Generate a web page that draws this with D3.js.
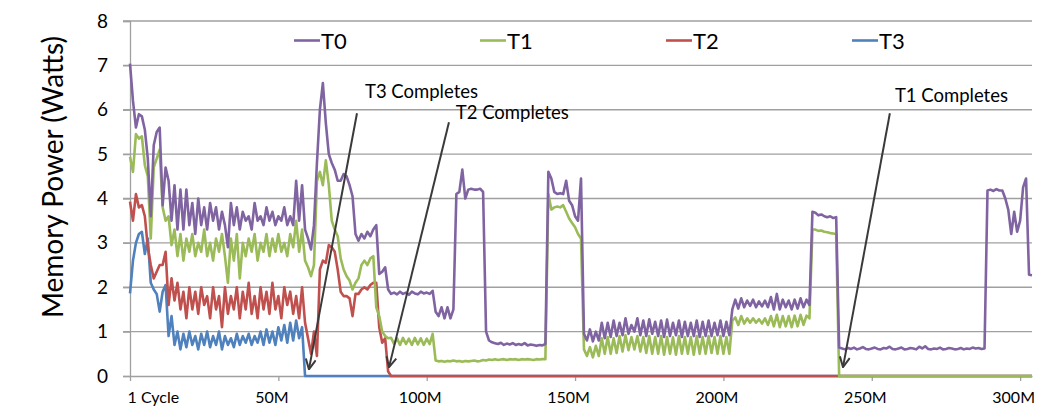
<!DOCTYPE html>
<html>
<head>
<meta charset="utf-8">
<script src="https://cdn.jsdelivr.net/npm/d3@7"></script>
<style>
  body { margin: 0; background: #fff; }
  svg { display: block; }
  text { font-family: Lato, "Liberation Sans", sans-serif; fill: #000; }
</style>
</head>
<body>
<svg id="chart" width="1044" height="415"></svg>
<script>
// Memory power per thread, sampled every 1M cycles (index = millions of cycles)
const sampleStepM = 1;

const seriesNames = ["T0", "T1", "T2", "T3"];

const t0Watts = [
  7.04, 6.2, 5.6, 5.9, 5.85, 5.55, 4.9, 3.6, 5.2, 5.5,
  5.6, 3.85, 4.7, 4.4, 3.5, 4.3, 3.3, 4.2, 3.3, 4.2,
  3.4, 3.9, 3.2, 4.0, 3.4, 3.8, 3.3, 3.9, 3.5, 3.8,
  3.3, 3.7, 3.4, 2.9, 3.9, 3.4, 3.8, 3.3, 3.7, 3.5,
  3.6, 3.3, 3.9, 3.5, 3.6, 3.4, 3.8, 3.5, 3.7, 3.4,
  3.6, 3.5, 3.8, 3.4, 3.6, 3.4, 4.4, 3.5, 4.3, 3.3,
  3.1, 2.85, 3.4, 4.8, 6.0, 6.6, 5.7, 5.0, 4.8, 4.65,
  4.4, 4.4, 4.55, 4.5, 4.3, 4.05, 3.2, 3.05, 3.2, 3.1,
  3.25, 3.15, 3.3, 3.4, 2.3, 2.35, 2.45, 1.95, 1.85, 1.88,
  1.84, 1.9, 1.85, 1.88, 1.83, 1.9, 1.86, 1.84, 1.9, 1.86,
  1.88, 1.85, 1.92, 1.45, 1.35, 1.55, 1.3, 1.55, 1.3, 1.5,
  4.1, 4.15, 4.65, 4.0, 4.2, 4.22, 4.2, 4.2, 4.22, 4.15,
  1.0, 0.8, 0.76, 0.74, 0.72, 0.75, 0.7, 0.73, 0.71, 0.74,
  0.7, 0.72, 0.7, 0.74, 0.69, 0.71, 0.7, 0.68, 0.7, 0.69,
  0.72, 4.6, 4.45, 4.15, 4.1, 4.12, 4.1, 4.4, 3.95, 3.85,
  3.6, 3.5, 4.45, 0.95, 0.8, 1.05, 0.78, 1.0, 0.8, 1.2,
  0.85, 1.2, 0.88, 1.25, 0.9, 1.2, 0.92, 1.3, 0.95, 1.15,
  1.0, 1.3, 0.92, 1.25, 0.9, 1.28, 0.95, 1.22, 0.9, 1.25,
  0.88, 1.27, 0.9, 1.2, 0.92, 1.25, 0.88, 1.22, 0.9, 1.2,
  0.9, 1.25, 0.88, 1.22, 0.9, 1.25, 0.9, 1.2, 0.92, 1.25,
  0.9, 1.22, 0.92, 1.5, 1.72, 1.52, 1.75, 1.55, 1.7, 1.58,
  1.72, 1.55, 1.68, 1.57, 1.7, 1.55, 1.78, 1.5, 1.85, 1.5,
  1.72, 1.55, 1.7, 1.5, 1.72, 1.52, 1.75, 1.55, 1.72, 1.6,
  3.7, 3.68, 3.62, 3.64, 3.6, 3.58, 3.6, 3.56, 3.58, 0.64,
  0.62, 0.6, 0.63, 0.61, 0.64, 0.6, 0.62, 0.65, 0.61, 0.6,
  0.62, 0.64, 0.61, 0.6, 0.63, 0.62, 0.66, 0.61, 0.6, 0.62,
  0.64, 0.6, 0.61, 0.63, 0.62, 0.6, 0.66, 0.62, 0.67, 0.61,
  0.6, 0.62, 0.61, 0.64, 0.6, 0.61, 0.63, 0.62, 0.6, 0.61,
  0.63, 0.6, 0.62, 0.61, 0.64, 0.62, 0.63, 0.61, 0.62, 4.18,
  4.2, 4.17, 4.21, 4.18, 4.18, 4.0, 3.75, 3.2, 3.7, 3.25,
  3.5, 4.25, 4.45, 2.28, 2.27
];

const t1Watts = [
  4.94, 4.6, 5.45, 5.35, 5.4, 4.75, 4.5, 3.1, 4.7, 4.9,
  5.1, 3.8, 3.5, 3.6, 2.95, 3.3, 2.7, 3.2, 2.6, 3.1,
  2.8, 3.2, 2.7, 3.0, 2.8, 3.3, 2.7, 3.0, 2.6, 3.1,
  2.8, 3.2, 2.7, 2.1, 3.1, 2.6, 3.2, 2.2, 3.0, 2.7,
  3.1, 2.8, 3.2, 2.6, 3.0, 2.8, 3.2, 2.7, 3.1, 2.8,
  3.2, 2.8, 3.0, 2.7, 3.2, 2.9, 3.5, 2.8, 3.3, 2.6,
  2.45, 2.25, 2.5, 4.4, 4.6, 4.3, 4.86, 4.3, 3.5, 3.3,
  3.15, 2.65, 2.4, 2.25, 2.15, 1.95, 2.1, 2.2, 2.5, 2.6,
  2.5, 2.65, 2.7, 1.55, 1.35, 1.0, 0.9, 0.85, 0.86, 0.72,
  0.85, 0.7, 0.86, 0.72, 0.84, 0.7, 0.86, 0.71, 0.85, 0.7,
  0.84, 0.72, 0.95, 0.35, 0.33, 0.34, 0.32, 0.34, 0.33, 0.35,
  0.33, 0.34, 0.32, 0.34, 0.33, 0.34, 0.35, 0.33, 0.34, 0.36,
  0.35, 0.37, 0.36, 0.38, 0.36, 0.37, 0.38, 0.36, 0.38, 0.37,
  0.38, 0.36, 0.38, 0.37, 0.38, 0.37, 0.36, 0.38, 0.37, 0.38,
  0.38, 4.1, 3.75, 3.8, 3.82, 3.8, 3.85, 3.7, 3.55, 3.45,
  3.35, 3.2, 3.1, 0.6, 0.45, 0.65, 0.42, 0.68, 0.45, 0.85,
  0.5, 0.88, 0.5, 0.85, 0.52, 0.9, 0.55, 0.92, 0.58, 0.88,
  0.6, 0.9, 0.55, 0.88, 0.52, 0.9, 0.5, 0.88, 0.5, 0.9,
  0.48, 0.88, 0.5, 0.87, 0.48, 0.9, 0.5, 0.88, 0.5, 0.88,
  0.48, 0.9, 0.5, 0.88, 0.5, 0.9, 0.52, 0.88, 0.5, 0.9,
  0.5, 0.88, 0.5, 1.25, 1.32, 1.15, 1.35, 1.18, 1.3, 1.2,
  1.3, 1.2, 1.28, 1.18, 1.3, 1.15, 1.35, 1.12, 1.38, 1.1,
  1.35, 1.12, 1.35, 1.1, 1.36, 1.12, 1.38, 1.15, 1.36, 1.3,
  3.3, 3.3, 3.27, 3.28, 3.25, 3.24, 3.22, 3.21, 3.2, 0,
  0, 0, 0, 0, 0, 0, 0, 0, 0, 0,
  0, 0, 0, 0, 0, 0, 0, 0, 0, 0,
  0, 0, 0, 0, 0, 0, 0, 0, 0, 0,
  0, 0, 0, 0, 0, 0, 0, 0, 0, 0,
  0, 0, 0, 0, 0, 0, 0, 0, 0, 0,
  0, 0, 0, 0, 0, 0, 0, 0, 0, 0,
  0, 0, 0, 0, 0
];

const t2Watts = [
  3.93, 3.5, 4.1, 3.8, 3.85, 3.6, 2.9, 2.5, 2.2, 2.35,
  2.5, 2.5, 2.8, 1.6, 2.2, 1.7, 2.1, 1.5, 1.9, 1.3,
  2.0, 1.5, 1.9, 1.4, 2.0, 1.6, 1.8, 1.3, 2.0, 1.5,
  1.8, 1.1, 2.0, 1.4, 1.8, 1.5, 2.0, 1.3, 1.9, 1.5,
  2.1, 1.4, 1.8, 1.3, 2.0, 1.5, 1.9, 1.4, 2.1, 1.5,
  1.8, 1.3, 2.0, 1.6, 1.9, 1.4, 1.8, 1.3, 2.0, 1.2,
  0.85, 0.5, 1.0, 0.45, 2.4, 2.6, 2.55, 2.95, 2.9, 2.8,
  2.4, 1.9, 1.8, 1.8, 1.75, 1.35, 1.85, 1.85, 1.95, 2.0,
  1.95, 2.05, 2.1, 2.1, 1.1, 0.75, 0.85, 0.1, 0, 0,
  0, 0, 0, 0, 0, 0, 0, 0, 0, 0,
  0, 0, 0, 0, 0, 0, 0, 0, 0, 0,
  0, 0, 0, 0, 0, 0, 0, 0, 0, 0,
  0, 0, 0, 0, 0, 0, 0, 0, 0, 0,
  0, 0, 0, 0, 0, 0, 0, 0, 0, 0,
  0, 0, 0, 0, 0, 0, 0, 0, 0, 0,
  0, 0, 0, 0, 0, 0, 0, 0, 0, 0,
  0, 0, 0, 0, 0, 0, 0, 0, 0, 0,
  0, 0, 0, 0, 0, 0, 0, 0, 0, 0,
  0, 0, 0, 0, 0, 0, 0, 0, 0, 0,
  0, 0, 0, 0, 0, 0, 0, 0, 0, 0,
  0, 0, 0, 0, 0, 0, 0, 0, 0, 0,
  0, 0, 0, 0, 0, 0, 0, 0, 0, 0,
  0, 0, 0, 0, 0, 0, 0, 0, 0, 0,
  0, 0, 0, 0, 0, 0, 0, 0, 0, 0,
  0, 0, 0, 0, 0, 0, 0, 0, 0, 0,
  0, 0, 0, 0, 0, 0, 0, 0, 0, 0,
  0, 0, 0, 0, 0, 0, 0, 0, 0, 0,
  0, 0, 0, 0, 0, 0, 0, 0, 0, 0,
  0, 0, 0, 0, 0, 0, 0, 0, 0, 0,
  0, 0, 0, 0, 0, 0, 0, 0, 0, 0,
  0, 0, 0, 0, 0
];

const t3Watts = [
  1.86, 2.6, 3.0, 3.2, 3.25, 2.75, 3.1, 2.1, 1.95, 1.85,
  1.45, 1.9, 2.05, 0.9, 1.35, 0.7, 1.0, 0.6, 0.95, 0.65,
  1.0, 0.7, 0.9, 0.6, 0.95, 0.7, 1.0, 0.65, 0.9, 0.7,
  1.0, 0.6, 0.9, 0.7, 0.85, 0.65, 0.95, 0.7, 0.9, 0.75,
  0.95, 0.7, 0.9, 0.75, 1.0, 0.7, 1.05, 0.75, 1.0, 0.7,
  1.1, 0.8, 1.15, 0.75, 1.2, 0.8, 1.25, 0.85, 1.1, 0,
  0, 0, 0, 0, 0, 0, 0, 0, 0, 0,
  0, 0, 0, 0, 0, 0, 0, 0, 0, 0,
  0, 0, 0, 0, 0, 0, 0, 0, 0, 0,
  0, 0, 0, 0, 0, 0, 0, 0, 0, 0,
  0, 0, 0, 0, 0, 0, 0, 0, 0, 0,
  0, 0, 0, 0, 0, 0, 0, 0, 0, 0,
  0, 0, 0, 0, 0, 0, 0, 0, 0, 0,
  0, 0, 0, 0, 0, 0, 0, 0, 0, 0,
  0, 0, 0, 0, 0, 0, 0, 0, 0, 0,
  0, 0, 0, 0, 0, 0, 0, 0, 0, 0,
  0, 0, 0, 0, 0, 0, 0, 0, 0, 0,
  0, 0, 0, 0, 0, 0, 0, 0, 0, 0,
  0, 0, 0, 0, 0, 0, 0, 0, 0, 0,
  0, 0, 0, 0, 0, 0, 0, 0, 0, 0,
  0, 0, 0, 0, 0, 0, 0, 0, 0, 0,
  0, 0, 0, 0, 0, 0, 0, 0, 0, 0,
  0, 0, 0, 0, 0, 0, 0, 0, 0, 0,
  0, 0, 0, 0, 0, 0, 0, 0, 0, 0,
  0, 0, 0, 0, 0, 0, 0, 0, 0, 0,
  0, 0, 0, 0, 0, 0, 0, 0, 0, 0,
  0, 0, 0, 0, 0, 0, 0, 0, 0, 0,
  0, 0, 0, 0, 0, 0, 0, 0, 0, 0,
  0, 0, 0, 0, 0, 0, 0, 0, 0, 0,
  0, 0, 0, 0, 0, 0, 0, 0, 0, 0,
  0, 0, 0, 0, 0
];

const yTickValues = [0, 1, 2, 3, 4, 5, 6, 7, 8];
const xTickValues = [0, 50, 100, 150, 200, 250, 300];
const xTickLabels = ["1 Cycle", "50M", "100M", "150M", "200M", "250M", "300M"];

// Thread-completion callouts: cycle (M) the arrow points at
const completionLabels = ["T3 Completes", "T2 Completes", "T1 Completes"];
const completionAtM = [60.3, 87.3, 240.3];

// ---- layout / styling ----
const colors = { T0: "#8064A2", T1: "#9BBB59", T2: "#C0504D", T3: "#4F81BD" };
const plot = { left: 130, right: 1032, top: 21, bottom: 376 };
const gridColor = "#a0a0a0";
const calloutLayout = [
  { textM: 79.2, textV: 6.26, tailM: 76.5, tailV: 5.92, tipV: 0.15 },
  { textM: 109.8, textV: 5.80, tailM: 107.5, tailV: 5.72, tipV: 0.2 },
  { textM: 257.8, textV: 6.18, tailM: 256.1, tailV: 5.92, tipV: 0.2 }
];

const svg = d3.select("#chart");

const x = d3.scaleLinear().domain([0, 304]).range([plot.left, plot.right]);
const y = d3.scaleLinear().domain([0, 8]).range([plot.bottom, plot.top]);

// horizontal gridlines (with short outside tick stubs)
svg.append("g")
  .selectAll("line")
  .data(yTickValues.filter(v => v > 0))
  .join("line")
  .attr("x1", plot.left - 7).attr("x2", plot.right)
  .attr("y1", d => y(d)).attr("y2", d => y(d))
  .attr("stroke", gridColor).attr("stroke-width", 1.3);

// y axis
const yAxis = svg.append("g")
  .attr("transform", `translate(${plot.left},0)`)
  .call(d3.axisLeft(y).tickValues(yTickValues).tickSize(7).tickPadding(15).tickFormat(d3.format("d")));
yAxis.select(".domain").attr("stroke", gridColor).attr("stroke-width", 1.3);
yAxis.selectAll(".tick line").attr("stroke", gridColor).attr("stroke-width", 1.3);
yAxis.selectAll(".tick text").attr("font-size", 19).attr("font-family", "Lato, sans-serif").attr("fill", "#000");

// x axis
const xAxis = svg.append("g")
  .attr("transform", `translate(0,${plot.bottom})`)
  .call(d3.axisBottom(x).tickValues(xTickValues).tickSize(5).tickSizeOuter(0)
    .tickFormat((d, i) => xTickLabels[i]));
xAxis.select(".domain").attr("stroke", gridColor).attr("stroke-width", 1.3);
xAxis.selectAll(".tick line").attr("stroke", gridColor).attr("stroke-width", 1.3);
xAxis.selectAll(".tick text")
  .attr("font-size", 16).attr("font-family", "Lato, sans-serif").attr("fill", "#000")
  .attr("y", 27).attr("dy", 0)
  .attr("text-anchor", (d, i) => i === 0 ? "start" : "middle")
  .attr("dx", (d, i) => i === 0 ? -3 : -7);

// y axis title
svg.append("text")
  .attr("transform", "translate(63,177) rotate(-90)")
  .attr("text-anchor", "middle")
  .attr("font-size", 28)
  .text("Memory Power (Watts)");

// series lines (T3 drawn first so later threads sit on top)
const seriesData = { T0: t0Watts, T1: t1Watts, T2: t2Watts, T3: t3Watts };
const line = d3.line()
  .x((d, i) => x(i * sampleStepM))
  .y(d => y(d));

svg.append("g")
  .selectAll("path")
  .data(seriesNames.slice().reverse())
  .join("path")
  .attr("d", name => line(seriesData[name]))
  .attr("fill", "none")
  .attr("stroke", name => colors[name])
  .attr("stroke-width", 2.6)
  .attr("stroke-linejoin", "round");

// legend
const legend = svg.append("g");
const legendItem = legend.selectAll("g")
  .data(seriesNames)
  .join("g")
  .attr("transform", (d, i) => `translate(${294 + i * 186},0)`);
legendItem.append("line")
  .attr("x1", 0).attr("x2", 26).attr("y1", 40.5).attr("y2", 40.5)
  .attr("stroke", d => colors[d]).attr("stroke-width", 2.6);
legendItem.append("text")
  .attr("x", 27).attr("y", 48.5)
  .attr("font-size", 22)
  .text(d => d);

// completion callouts
svg.append("defs").append("marker")
  .attr("id", "openArrow")
  .attr("viewBox", "0 0 12 12")
  .attr("refX", 11).attr("refY", 6)
  .attr("markerWidth", 12).attr("markerHeight", 12)
  .attr("markerUnits", "userSpaceOnUse")
  .attr("orient", "auto")
  .append("path")
  .attr("d", "M1,1 L11,6 L1,11")
  .attr("fill", "none").attr("stroke", "#3a3a3a").attr("stroke-width", 2);

const callouts = svg.append("g")
  .selectAll("g")
  .data(completionLabels.map((label, i) => ({ label, atM: completionAtM[i], ...calloutLayout[i] })))
  .join("g");
callouts.append("line")
  .attr("x1", d => x(d.tailM)).attr("y1", d => y(d.tailV))
  .attr("x2", d => x(d.atM)).attr("y2", d => y(d.tipV))
  .attr("stroke", "#3a3a3a").attr("stroke-width", 2)
  .attr("marker-end", "url(#openArrow)");
callouts.append("text")
  .attr("x", d => x(d.textM)).attr("y", d => y(d.textV))
  .attr("font-size", 18.5)
  .text(d => d.label);
</script>
</body>
</html>
